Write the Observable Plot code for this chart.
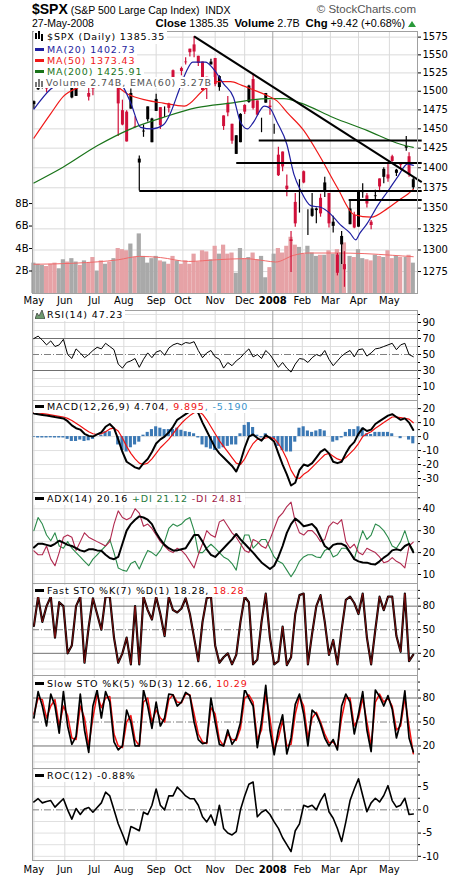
<!DOCTYPE html>
<html><head><meta charset="utf-8">
<script src="https://cdn.jsdelivr.net/npm/d3@7"></script>
<script src="https://cdn.jsdelivr.net/npm/@observablehq/plot@0.6"></script>
<style>
html,body{margin:0;padding:0;background:#fff}
#wrap{position:relative;width:460px;height:880px;overflow:hidden;background:#fff;font-family:'DejaVu Sans',sans-serif;color:#000}
.lg{position:absolute;left:34px;top:31px;font-size:9.5px;letter-spacing:0.85px;white-space:nowrap}
.lg>div{display:table;background:#fff;padding-right:2px}
.sub{position:absolute;left:34px;font-size:9.5px;letter-spacing:0.85px;line-height:12px;white-space:nowrap;background:#fff;padding-right:2px}
.mk{display:inline-block;width:9px;height:3px;vertical-align:middle;margin:0 3px 2px 1px}
.hd{position:absolute;font-family:'Liberation Sans',Arial,sans-serif;white-space:nowrap}
</style></head><body><div id="wrap"></div>
<script>
// ---------- axis categories ----------
const monthLabels = ["May","Jun","Jul","Aug","Sep","Oct","Nov","Dec","2008","Feb","Mar","Apr","May"];
const monthStart  = [0,22,43,64,87,106,129,150,170,191,211,231,253]; // trading-day index
const priceTicks = [1275,1300,1325,1350,1375,1400,1425,1450,1475,1500,1525,1550,1575];
const volTicks = [2,4,6,8];

// ---------- price candles (trading-day index) ----------
const pIdx = [0,3,6,9,12,15,18,21,24,27,30,33,36,39,42,45,48,51,54,57,60,63,66,69,72,75,78,81,84,87,90,93,96,99,102,105,108,111,114,117,120,123,126,129,132,135,138,141,144,147,150,153,156,159,162,165,168,171,174,177,180,183,186,189,192,195,198,201,204,207,210,213,216,219,221,225,228,231,234,237,240,243,246,249,252,255,258,261,265,267,270];
const pOpen = [1482,1502,1507,1505,1514,1525,1507,1530,1539,1491,1493,1533,1512,1497,1505,1519,1531,1547,1549,1534,1518,1474,1472,1476,1453,1406,1446,1462,1432,1473,1478,1471,1483,1528,1516,1531,1540,1558,1564,1548,1540,1519,1536,1545,1505,1467,1484,1456,1417,1432,1481,1485,1516,1487,1454,1484,1480,1447,1416,1420,1377,1312,1357,1355,1395,1336,1340,1347,1362,1371,1368,1328,1294,1306,1283,1330,1341,1327,1369,1365,1333,1364,1386,1388,1391,1414,1393,1404,1425,1414,1375];
const pHigh = [1487,1510,1513,1510,1517,1529,1517,1535,1540,1508,1516,1537,1524,1506,1518,1527,1533,1556,1549,1547,1518,1488,1474,1503,1466,1415,1455,1479,1464,1496,1478,1479,1484,1529,1518,1533,1546,1558,1576,1548,1540,1519,1544,1545,1521,1467,1493,1456,1441,1470,1482,1508,1523,1487,1464,1497,1488,1456,1426,1420,1391,1322,1368,1385,1396,1348,1368,1350,1367,1388,1368,1340,1296,1322,1298,1359,1345,1370,1380,1368,1335,1372,1386,1400,1404,1416,1398,1406,1440,1419,1387];
const pLow  = [1476,1501,1503,1498,1509,1522,1505,1528,1524,1490,1493,1529,1506,1487,1494,1515,1508,1545,1534,1533,1440,1454,1433,1476,1451,1371,1439,1459,1432,1473,1449,1465,1471,1516,1508,1521,1536,1547,1546,1534,1500,1489,1536,1506,1500,1448,1466,1430,1417,1432,1469,1484,1475,1467,1445,1484,1468,1443,1389,1395,1364,1274,1327,1344,1380,1317,1339,1331,1339,1363,1326,1320,1270,1283,1257,1330,1325,1327,1362,1350,1324,1360,1369,1380,1382,1407,1389,1397,1421,1388,1373];
const pClose= [1486,1505,1512,1503,1512,1524,1515,1531,1531,1507,1515,1531,1522,1492,1503,1525,1510,1552,1546,1541,1483,1455,1433,1497,1452,1411,1447,1479,1463,1489,1454,1471,1477,1518,1518,1527,1539,1553,1554,1538,1501,1515,1540,1509,1520,1453,1471,1434,1441,1469,1472,1507,1477,1468,1454,1497,1478,1447,1390,1401,1373,1310,1331,1355,1381,1336,1349,1349,1343,1381,1331,1333,1273,1316,1277,1349,1326,1370,1370,1355,1329,1365,1376,1398,1386,1408,1397,1403,1427,1391,1385];
const pVolB = [2.7,2.6,2.5,2.4,2.6,2.7,2.2,3.0,2.8,3.1,2.8,2.5,2.9,2.7,3.2,2.0,2.9,2.6,2.8,3.1,4.0,3.9,3.8,4.4,3.2,5.3,3.3,2.7,3.1,3.3,2.9,2.8,2.6,3.3,2.9,2.6,2.9,2.6,3.5,2.8,3.8,3.7,3.0,4.2,3.5,4.3,3.5,3.6,1.8,4.0,3.1,3.2,3.6,3.0,3.3,1.4,2.3,3.5,4.0,3.6,4.2,5.0,4.3,4.1,3.5,4.2,3.6,3.3,3.4,3.4,3.8,3.5,3.9,3.6,4.5,3.3,3.2,3.9,3.1,3.0,2.9,3.4,3.3,3.2,3.8,3.1,3.3,3.2,3.2,3.4,2.7];

// ---------- moving averages ----------
const ma20Idx = [0,12,21,30,40,50,57,63,69,76,84,92,97,103,108,113,122,128,135,142,147,152,156,164,168,173,180,185,190,197,204,211,218,225,229,232,237,245,252,259,266,270];
const ma20 = [1476,1503,1514,1520,1515,1522,1522,1508,1484,1452,1450,1455,1470,1500,1525,1540,1540,1530,1510,1492,1459,1450,1458,1480,1477,1459,1430,1392,1371,1353,1351,1343,1330,1320,1312,1320,1331,1354,1371,1389,1405,1403];
const ma50Idx = [0,12,21,33,45,57,67,80,92,107,121,131,140,148,156,165,173,180,192,204,216,228,240,252,260,266,270];
const ma50 = [1438,1470,1493,1506,1515,1509,1496,1488,1484,1480,1502,1513,1513,1508,1502,1495,1487,1472,1448,1413,1375,1342,1339,1350,1360,1367,1373];
const ma200Idx = [0,21,45,69,92,116,140,166,178,190,213,237,261,270];
const ma200 = [1381,1401,1428,1450,1465,1478,1484,1490,1490,1484,1465,1448,1430,1426];
const vemaIdx = [0,30,60,75,90,110,130,150,165,172,185,195,215,235,255,270];
const vema = [2.6,2.7,3.0,3.3,3.2,2.85,3.0,3.1,2.9,2.8,3.4,3.6,3.6,3.55,3.4,3.27];

// ---------- analyst lines (index, price) ----------
const drawnLines = [
  {i1:114,p1:1576,i2:276,p2:1382},
  {i1:75, p1:1371,i2:276,p2:1371},
  {i1:144,p1:1406,i2:276,p2:1406},
  {i1:160,p1:1435,i2:276,p2:1435},
  {i1:224,p1:1360,i2:276,p2:1360}
];

// ---------- indicators, sampled every 3 trading days ----------
const oscIdx = d3.range(0, 271, 3);
const rsi = [70,73,68,62,67,60,62,69,50,45, 57,52,46,50,55,59,57,64,60,56, 38,33,40,42,45,34,44,52,46,53, 55,49,58,62,64,62,65,64,66,55, 46,52,55,47,44,33,40,36,42,46, 52,57,47,50,45,55,50,42,34,40, 33,28,38,45,44,40,46,50,48,55, 44,36,42,48,52,55,47,56,57,48, 52,57,58,60,62,64,56,62,64,50, 47.23];
const macd = [16.5,16,15.5,15,14.6,14,13.5,13,11,8, 6,5,2,0.5,0,1.5,3,7,9,6, -2,-11,-18,-20,-22,-23,-19,-16,-11,-5, -2,0,3,7,12,14,16,18,19,17, 10,4,-2,-8,-12,-15,-18,-21,-25,-18, -8,0,1.5,-1,-3,1,-1,-3.6,-12,-20, -27,-35,-33,-24,-20,-21,-19,-15,-11,-9, -12,-18,-19,-18,-12,-7,-4,2,6,4, 5,9,11,13,15,16,14,12,13,10, 4.704];
const macdSig = [17,17,16.5,16,15.5,15,14.5,14,13,11.5, 9.5,7.5,5.5,3.5,2,1.5,2,3.5,5.5,6, 4,-1,-7,-12,-16,-19,-20,-19,-16,-12, -8,-5,-2,2,6,9.5,12.5,15,17,18, 16,12,7,2,-3,-7,-11,-15,-19,-20, -16,-10,-5,-2,-2,-1,-0.5,-1.5,-5,-10, -16,-24,-29,-30,-27,-25,-22,-19,-16,-13, -12,-14,-16,-17,-15,-12,-9,-5,0,2, 3.5,6,8,10,12,14,14,13.5,13,12.5, 9.895];
const macdHist = [-0.5,-1,-1,-1,-0.9,-1,-1,-1,-2,-3.5, -3.5,-2.5,-3.5,-3,-2,0,1,3.5,3.5,0, -6,-10,-11,-8,-6,-4,1,3,5,7, 6,5,5,5,6,4.5,3.5,3,2,-1, -6,-8,-9,-10,-9,-8,-7,-6,-6,2, 8,10,6.5,1,-1,2,-0.5,-2,-7,-10, -11,-11,-4,6,7,4,3,4,5,4, 0,-4,-3,-1,3,5,5,7,6,2, 1.5,3,3,3,3,2,0,-1.5,0,-2.5, -5.19];
const adx = [22.3,24,24,23.5,23,24,25.4,24.5,23.5,23, 22,21,20.5,21.5,21.5,21,20.8,19,17.5,17, 18,24,30,33,35,36.5,36,35,33,29, 26,23.5,22,21,21,21.5,22,25,28,28, 25,21.5,19,18,20,22,24,26,28.5,26, 24,22,20,17.7,15.5,14,12.5,14,18,23, 29,33,35.5,34,32,32.5,33,31,27,23, 21.5,23.5,24,24,23,20,17,16,15.5,15.4, 14.8,14.6,16,17.7,19,21,21.5,21,23,24, 20.16];
const plusDI = [30,36,33,28,25.4,29,23,22,25,22, 20,18,16,14,17,19,21,23,26,20, 13,12,11.5,15,16,12.5,17,21,20,18.5, 21,25,31,33,32,33,35,36,30,20, 20,22,23.8,22,20,18,17,15,12,22, 28,28,22,24,26,26,22,18,16,15, 12,9,12,16,18,19,19,18,17.7,21, 22,18,19,22,22,20,17,24,30,26, 28,33,32,30,27,23,22,25,30,24, 21.12];
const minusDI = [20.8,19,19,23,17,14,20,27,28,27, 21,25,29,27,26,25,24,23,25,33, 39,36,35,36,40,38,32,33,31,28, 25,23,21,20,22,21,19,16,13,19, 24,30,28,27,34,35,32,29,27,24, 21,20,26,25,23,22,26,31,36,38, 41,43,34,29,28,30,30,28,25,26, 32,34,33,35,25,22,23.8,20,19,22, 21,20,18,15.4,16,17.7,16,15,13,23, 24.81];
const fastK = [55,92,60,80,92,40,85,80,20,30, 80,92,8,54,90,70,50,92,92,40, 8,20,40,6,80,6,92,75,63,92, 70,42,92,75,72,77,90,70,40,10, 60,90,92,30,8,15,20,6,18,60, 92,85,6,12,60,96,40,6,10,54, 5,15,70,94,96,6,45,80,94,60, 18,37,6,50,88,92,84,70,96,40, 6,50,92,75,92,92,42,22,96,10, 18.28];
const slowK = [55,88,70,45,85,70,36,88,45,22, 32,85,40,12,70,90,55,88,75,25, 15,20,65,50,20,20,90,70,42,75, 45,55,85,84,70,75,87,83,50,28, 23,24,80,50,22,20,40,22,30,49, 91,80,70,18,50,96,40,9,40,59, 10,30,72,85,60,20,65,60,47,30, 20,28,15,70,85,75,35,60,88,40, 13,90,82,70,83,66,30,50,89,30, 12.66];
const slowD = [60,80,78,55,70,78,45,70,58,30, 28,70,55,20,55,85,68,80,82,35, 20,18,50,58,28,20,75,80,50,65, 55,50,78,84,75,74,85,84,60,35, 25,23,68,60,28,20,35,28,27,42, 80,84,75,28,40,85,55,15,30,52, 20,22,60,82,70,30,55,62,50,35, 24,25,18,55,80,80,45,55,80,50, 20,75,85,75,80,70,40,45,80,45, 10.29];
const roc = [1.7,2.4,1.5,1.8,2,0.6,1.5,2.4,0,-2, 0.3,-1,0.2,0.5,-0.5,0.5,1.5,3.8,3,0, -3,-5.2,-7.5,-3.6,-4,-4.5,-0.5,-1,1,4.5, 1,0,3,3,4.9,4,3,2.4,2.4,1, -1.5,-2.6,-1.1,-3.3,1,-4,-5,-5.4,-4.7,0, 3,5.5,6,-1.5,-0.5,0,-1,-2.6,-4,-6, -7.5,-9,-4.5,-3,1,0.6,1,0,2,3.5, -0.4,-1.8,-4,-6.8,-2.6,2,4.5,6.7,3.1,-0.4, 1.5,2.5,1.7,3.1,5.2,2,0.6,1,2.5,-1, -0.88];

// ---------- build tables ----------
const candles = pIdx.map((i,k)=>({i, o:pOpen[k], h:pHigh[k], l:pLow[k], c:pClose[k], v:pVolB[k]}));
const upC = candles.filter(d=>d.c>=d.o), dnC = candles.filter(d=>d.c<d.o);
const pairs = (idx, vals) => idx.map((i,k)=>({i, v:vals[k]}));
const osc = oscIdx.map((i,k)=>({i, rsi:rsi[k], macd:macd[k], sig:macdSig[k], hist:macdHist[k], adx:adx[k], pdi:plusDI[k], mdi:minusDI[k], fk:fastK[k], sk:slowK[k], sd:slowD[k], roc:roc[k]}));

const wrap = document.getElementById("wrap");
const FONT = "'DejaVu Sans', sans-serif";
const xDom = [-1, 273];
function mkPlot(opts){
  return Plot.plot(Object.assign({width:460, marginLeft:32, marginRight:43, marginTop:1, marginBottom:0,
    style:{fontFamily:FONT, fontSize:"10px", background:"transparent", overflow:"visible"}}, opts));
}
function put(svg, top){ Object.assign(svg.style,{position:"absolute", left:"0px", top:top+"px"}); wrap.appendChild(svg); return svg; }
const regMonths = monthStart.filter((d,k)=>monthLabels[k]!=="2008");
const yrMonths = monthStart.filter((d,k)=>monthLabels[k]==="2008");
const vgrid = () => [Plot.ruleX(regMonths,{stroke:"#dadada"}), Plot.ruleX(yrMonths,{stroke:"#a6a6a6"})];
const monthAxis = (pad) => Plot.axisX({ticks:monthStart, tickFormat:d=>monthLabels[monthStart.indexOf(d)], tickSize:0, tickPadding:pad, label:null, fontSize:10});
const boldYear = svg => d3.select(svg).selectAll("text").filter(function(){return this.textContent==="2008";}).attr("font-weight","bold");
const rightAxis = (ticks) => Plot.axisY({anchor:"right", ticks, tickSize:3, tickPadding:2, label:null, fontSize:10, tickFormat:d=>String(d)});
const minorAxis = (ticks) => Plot.axisY({anchor:"right", ticks, tickSize:2, label:null, tickFormat:()=>""});
const frame = () => Plot.frame({stroke:"#a0a0a0"});

// ---------- main panel: 3 layers ----------
const mainY = {type:"log", domain:[1250,1583], axis:null};
const mainH = {height:279, marginBottom:16};
put(mkPlot({...mainH, x:{domain:xDom, axis:null}, y:mainY, marks:[
  Plot.ruleY(priceTicks,{stroke:"#dadada"}), ...vgrid()
]}), 30);
put(mkPlot({...mainH, x:{domain:xDom, axis:null}, y:{domain:[0,23.3], axis:null}, marks:[
  Plot.rect(candles.filter(d=>d.c>=d.o),{x1:d=>d.i-1.5, x2:d=>d.i+1.5, y1:0, y2:"v", fill:"#a9a9a9"}),
  Plot.rect(candles.filter(d=>d.c<d.o),{x1:d=>d.i-1.5, x2:d=>d.i+1.5, y1:0, y2:"v", fill:"#e6a2a6"}),
  Plot.line(pairs(vemaIdx, vema),{x:"i", y:"v", stroke:"#f06a6a", strokeWidth:1, curve:"monotone-x"}),
  Plot.axisY({anchor:"left", ticks:volTicks, tickFormat:d=>d+"B", tickSize:3, tickPadding:1, label:null, fontSize:10})
]}), 30);
const mainSvg = put(mkPlot({...mainH, x:{domain:xDom, axis:null}, y:mainY, marks:[
  Plot.ruleX(upC,{x:"i", y1:"l", y2:"h", stroke:"#000", strokeWidth:1.2}),
  Plot.ruleX(upC,{x:"i", y1:"o", y2:"c", stroke:"#000", strokeWidth:3}),
  Plot.ruleX(dnC,{x:"i", y1:"l", y2:"h", stroke:"#d0103a", strokeWidth:1.2}),
  Plot.ruleX(dnC,{x:"i", y1:"o", y2:"c", stroke:"#d0103a", strokeWidth:3}),
  Plot.line(pairs(ma200Idx, ma200),{x:"i", y:"v", stroke:"#1a741a", strokeWidth:1.2, curve:"monotone-x"}),
  Plot.line(pairs(ma50Idx, ma50),{x:"i", y:"v", stroke:"#f01818", strokeWidth:1.2, curve:"monotone-x"}),
  Plot.line(pairs(ma20Idx, ma20),{x:"i", y:"v", stroke:"#1e1ea0", strokeWidth:1.2, curve:"monotone-x"}),
  Plot.link(drawnLines,{x1:"i1", y1:"p1", x2:"i2", y2:"p2", stroke:"#000", strokeWidth:2}),
  frame(),
  rightAxis(priceTicks),
  monthAxis(3)
]}), 30);
boldYear(mainSvg);

// ---------- indicator panels ----------
function panel(top, innerH, dom, marks, mb=0){
  return put(mkPlot({height:innerH+1+mb, marginBottom:mb, x:{domain:xDom, axis:null}, y:{domain:dom, axis:null}, marks}), top-1);
}
const light = v => Plot.ruleY(v,{stroke:"#e0e0e0"});
const dark = v => Plot.ruleY(v,{stroke:"#707070"});
const dash = v => Plot.ruleY(v,{stroke:"#808080", strokeDasharray:"7,2,1,2"});

panel(310, 90, [-7.5,105], [
  light([0,10,20,40,60,80,90,100]), ...vgrid(), dark([30,70]), dash([50]),
  Plot.line(osc,{x:"i", y:"rsi", stroke:"#000", strokeWidth:1}),
  frame(), minorAxis([0,20,40,60,80,100]), rightAxis([10,30,50,70,90])
]);
panel(400, 92, [-40,25.8], [
  light([-30,-20,-10,0,10,20]), ...vgrid(),
  Plot.rect(osc,{x1:d=>d.i-1.1, x2:d=>d.i+1.1, y1:0, y2:"hist", fill:"#3b78b4"}),
  Plot.line(osc,{x:"i", y:"sig", stroke:"#f01010", strokeWidth:1.2}),
  Plot.line(osc,{x:"i", y:"macd", stroke:"#000", strokeWidth:2}),
  frame(), minorAxis([-35,-25,-15,-5,5,15]), rightAxis([20,10,0,-10,-20,-30])
]);
panel(492, 91, [5.9,47.4], [
  light([10,15,20,25,30,35,40,45]), ...vgrid(),
  Plot.line(osc,{x:"i", y:"pdi", stroke:"#2a8a4a", strokeWidth:1.1}),
  Plot.line(osc,{x:"i", y:"mdi", stroke:"#b0284e", strokeWidth:1.1}),
  Plot.line(osc,{x:"i", y:"adx", stroke:"#000", strokeWidth:2}),
  frame(), minorAxis([15,25,35,45]), rightAxis([10,20,30,40])
]);
panel(583, 92, [-8.2,108.8], [
  light([0,10,30,40,60,70,90,100]), ...vgrid(), dark([20,80]), dash([50]),
  Plot.line(osc,{x:"i", y:"fk", stroke:"#000", strokeWidth:2.2}),
  Plot.line(osc,{x:"i", y:"fk", stroke:"#c81818", strokeWidth:0.6}),
  frame(), minorAxis([0,10,30,40,60,70,90,100]), rightAxis([20,50,80])
]);
panel(675, 93, [-8.2,108.2], [
  light([0,10,30,40,60,70,90,100]), ...vgrid(), dark([20,80]), dash([50]),
  Plot.line(osc,{x:"i", y:"sd", stroke:"#f01010", strokeWidth:1.5}),
  Plot.line(osc,{x:"i", y:"sk", stroke:"#000", strokeWidth:1.7}),
  frame(), minorAxis([0,10,30,40,60,70,90,100]), rightAxis([20,50,80])
]);
const rocSvg = panel(768, 92, [-10.9,8.9], [
  light([-10,-7.5,-5,-2.5,2.5,5,7.5]), ...vgrid(), dash([0]),
  Plot.line(osc,{x:"i", y:"roc", stroke:"#000", strokeWidth:1.6}),
  frame(), minorAxis([-7.5,-2.5,2.5,7.5]), rightAxis([5,0,-5,-10]),
  monthAxis(5)
], 20);
boldYear(rocSvg);

// ---------- text: header & legends ----------
const mk = c => `<span class="mk" style="background:${c}"></span>`;
const candleIcon = `<svg width="10" height="10" style="vertical-align:-1px;margin:0 2px 0 1px"><rect x="0" y="2" width="2" height="6" fill="#000"/><rect x="3" y="0" width="2" height="8" fill="#000"/><rect x="6" y="3" width="2" height="7" fill="#000"/></svg>`;
const volIcon = `<svg width="10" height="9" style="vertical-align:-1px;margin:0 1px 0 1px"><rect x="0" y="4" width="2" height="5" fill="#777"/><rect x="3" y="1" width="2" height="8" fill="#777"/><rect x="6" y="3" width="2" height="6" fill="#777"/></svg>`;
const rsiIcon = `<svg width="10" height="10" style="vertical-align:-1px;margin:0 2px 0 1px"><path d="M0 10 L2 4 L4 7 L7 1 L10 10 Z" fill="#6f9a6f" stroke="#333" stroke-width="0.7"/></svg>`;
const html = `
<div class="hd" style="left:32px;top:1px;font-size:10.5px;line-height:16px"><b style="font-size:14px">$SPX</b> (S&amp;P 500 Large Cap Index)&nbsp; INDX</div>
<div class="hd" style="right:44px;top:2px;font-size:11.5px;line-height:14px;color:#555">© StockCharts.com</div>
<div class="hd" style="left:32px;top:17px;font-size:10.5px;line-height:13px">27-May-2008</div>
<div class="hd" style="right:44px;top:17px;font-size:10.8px;line-height:13px"><b style="font-size:11.3px">Close</b> 1385.35&nbsp; <b style="font-size:11.3px">Volume</b> 2.7B&nbsp; <b style="font-size:11.3px">Chg</b> +9.42 (+0.68%) <svg width="8" height="7" style="vertical-align:0"><path d="M0 7 L4 1 L8 7 Z" fill="#2a9a3a"/></svg></div>
<div class="lg">
  <div style="line-height:12.5px">${candleIcon}$SPX (Daily) 1385.35</div>
  <div style="line-height:11.1px;color:#1e1ea0">${mk("#1e1ea0")}MA(20) 1402.73</div>
  <div style="line-height:11.1px;color:#f01818">${mk("#f01818")}MA(50) 1373.43</div>
  <div style="line-height:11.1px;color:#1a741a">${mk("#1a741a")}MA(200) 1425.91</div>
  <div style="line-height:11.1px;color:#555">${volIcon}Volume 2.74B, EMA(60) 3.27B</div>
</div>
<div class="sub" style="top:309px">${rsiIcon}RSI(14) 47.23</div>
<div class="sub" style="top:401px">${mk("#000")}MACD(12,26,9) 4.704<span style="color:#f01010">, 9.895</span><span style="color:#3a94cc">, -5.190</span></div>
<div class="sub" style="top:493px">${mk("#000")}ADX(14) 20.16 <span style="color:#1f7a3e">+DI 21.12</span> <span style="color:#a01a46">-DI 24.81</span></div>
<div class="sub" style="top:585px">${mk("#000")}Fast STO %K(7) %D(1) 18.28, <span style="color:#f01010">18.28</span></div>
<div class="sub" style="top:678px">${mk("#000")}Slow STO %K(5) %D(3) 12.66, <span style="color:#f01010">10.29</span></div>
<div class="sub" style="top:770px">${mk("#000")}ROC(12) -0.88%</div>`;
wrap.insertAdjacentHTML("beforeend", html);
</script></body></html>
